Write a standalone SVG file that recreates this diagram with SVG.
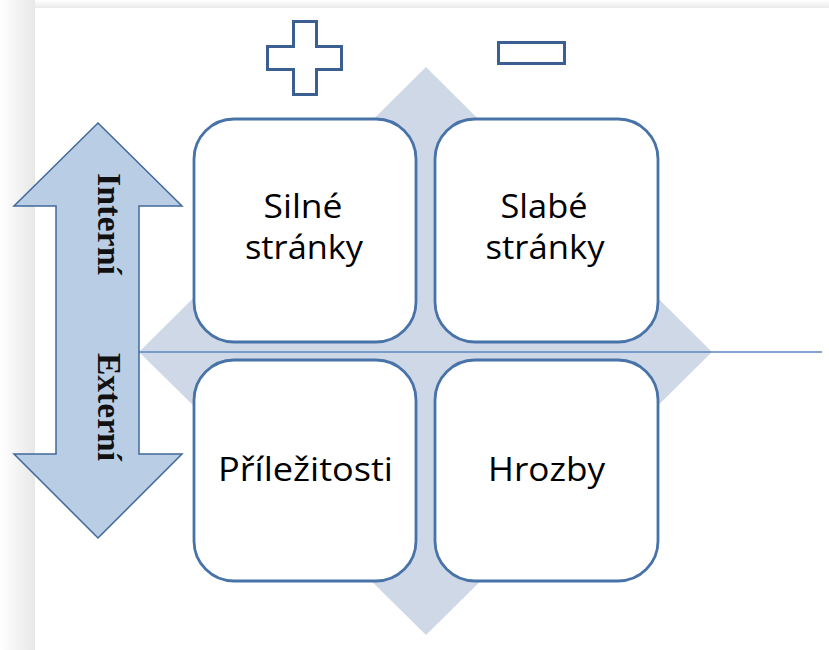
<svg xmlns="http://www.w3.org/2000/svg" width="829" height="650" viewBox="0 0 829 650">
  <style>
    .box { fill: #ffffff; stroke: #4873a8; stroke-width: 2.8; }
    .lbl { font-family: "Open Sans", "Liberation Sans", sans-serif; font-size: 32px; fill: #000000; text-anchor: middle; }
    .vlbl { font-family: "Liberation Serif", "Times New Roman", serif; font-size: 33px; font-weight: bold; fill: #111111; text-anchor: middle; }
    .sign { fill: #ffffff; stroke: #3a5f90; stroke-width: 3; }
  </style>
  <defs>
    <linearGradient id="shL" x1="0" y1="0" x2="1" y2="0">
      <stop offset="0" stop-color="#ffffff"/>
      <stop offset="1" stop-color="#e8e8e8"/>
    </linearGradient>
    <linearGradient id="shT" x1="0" y1="0" x2="0" y2="1">
      <stop offset="0" stop-color="#ffffff"/>
      <stop offset="1" stop-color="#eaeaea"/>
    </linearGradient>
  </defs>
  <rect x="0" y="0" width="829" height="650" fill="#ffffff"/>
  <rect x="0" y="0" width="35" height="650" fill="url(#shL)"/>
  <rect x="35" y="0" width="794" height="8" fill="url(#shT)"/>

  <g id="diamond">
    <polygon points="426,67 712,352 426,635 139,352" fill="#cfd8e7"/>
  </g>

  <g id="connectors">
    <line x1="139" y1="352" x2="822" y2="352" stroke="#5b87c0" stroke-width="1.5"/>
  </g>

  <g id="plus">
    <path class="sign" d="M293.5,21.5 H316.5 V46.5 H341.5 V69.5 H316.5 V94.5 H293.5 V69.5 H267.5 V46.5 H293.5 Z"/>
  </g>
  <g id="minus">
    <rect class="sign" x="498.5" y="42.5" width="66" height="21"/>
  </g>

  <g id="axis-arrow">
    <polygon points="98,123 182,206 139,206 139,454 182,454 98,538 14,454 56,454 56,206 14,206" fill="#b9cde5" stroke="#41689b" stroke-width="1.5" stroke-linejoin="miter"/>
    <text class="vlbl" transform="translate(98,224) rotate(90)" x="0" y="0" textLength="102" lengthAdjust="spacingAndGlyphs">Interní</text>
    <text class="vlbl" transform="translate(98,407) rotate(90)" x="0" y="0" textLength="108" lengthAdjust="spacingAndGlyphs">Externí</text>
  </g>

  <g id="silne-stranky">
    <rect class="box" x="194" y="119" width="222" height="223" rx="40" ry="40"/>
    <text class="lbl" x="303" y="218" textLength="79" lengthAdjust="spacingAndGlyphs">Silné</text>
    <text class="lbl" x="304" y="259" textLength="118" lengthAdjust="spacingAndGlyphs">stránky</text>
  </g>
  <g id="slabe-stranky">
    <rect class="box" x="435" y="119" width="223" height="223" rx="40" ry="40"/>
    <text class="lbl" x="544" y="218" textLength="87" lengthAdjust="spacingAndGlyphs">Slabé</text>
    <text class="lbl" x="545" y="259" textLength="119" lengthAdjust="spacingAndGlyphs">stránky</text>
  </g>
  <g id="prilezitosti">
    <rect class="box" x="194" y="360" width="222" height="221" rx="40" ry="40"/>
    <text class="lbl" x="305.5" y="481" textLength="175" lengthAdjust="spacingAndGlyphs">Příležitosti</text>
  </g>
  <g id="hrozby">
    <rect class="box" x="435" y="360" width="223" height="221" rx="40" ry="40"/>
    <text class="lbl" x="546.5" y="481" textLength="117" lengthAdjust="spacingAndGlyphs">Hrozby</text>
  </g>
</svg>
